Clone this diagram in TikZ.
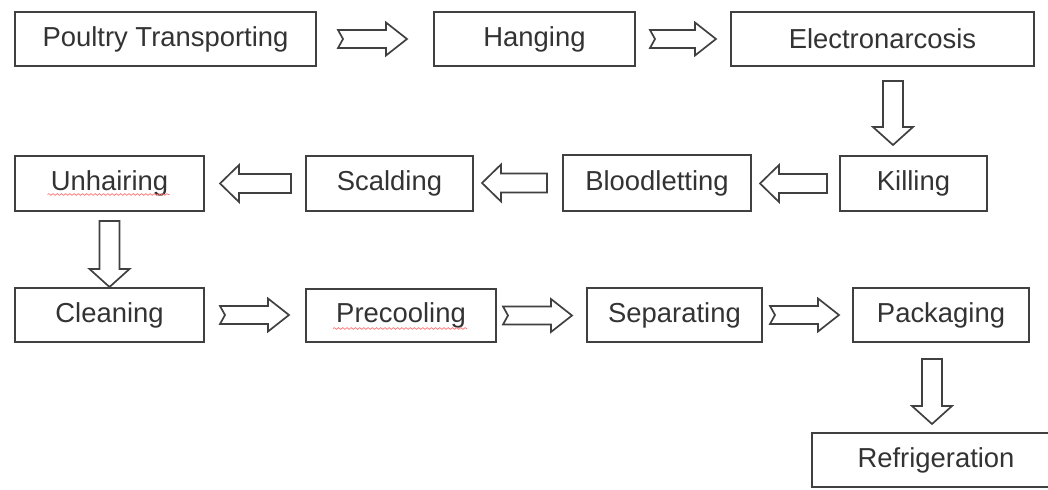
\documentclass[tikz,border=0pt]{standalone}
\usepackage{fontspec}
\setmainfont{Liberation Sans}
\usetikzlibrary{calc,decorations.pathmorphing}
% right arrow with notched tail: #1 from node, #2 to node, #3 gap at tail, #4 gap at tip
\newcommand\RArr[4]{\draw[arr] let \p1=($(#1.east)+(#3,0)$), \p2=($(#2.west)+(-#4,0)$) in
  ($(\x1,\y1)+(0,-9)$) -- ($(\x2,\y1)+(-21,-9)$) -- ($(\x2,\y1)+(-21,-16.5)$) -- (\x2,\y1)
  -- ($(\x2,\y1)+(-21,16.5)$) -- ($(\x2,\y1)+(-21,9)$) -- ($(\x1,\y1)+(0,9)$) -- ($(\x1,\y1)+(5,0)$) -- cycle;}
% left arrow: #1 from node, #2 to node, #3 gap at tail, #4 gap at tip
\newcommand\LArr[4]{\draw[arr] let \p1=($(#1.west)+(-#3,0)$), \p2=($(#2.east)+(#4,0)$) in
  ($(\x1,\y1)+(0,-9.5)$) -- ($(\x2,\y1)+(19,-9.5)$) -- ($(\x2,\y1)+(19,-18.5)$) -- (\x2,\y1)
  -- ($(\x2,\y1)+(19,18.5)$) -- ($(\x2,\y1)+(19,9.5)$) -- ($(\x1,\y1)+(0,9.5)$) -- cycle;}
% down arrow: #1 from node, #2 to node, #3 x shift, #4 gap at tail, #5 gap at tip
\newcommand\DArr[5]{\draw[arr] let \p1=($(#1.south)+(#3,#4)$), \p2=($(#2.north)+(0,-#5)$) in
  ($(\x1,\y1)+(-10,0)$) -- ($(\x1,\y2)+(-10,-18)$) -- ($(\x1,\y2)+(-20,-18)$) -- (\x1,\y2)
  -- ($(\x1,\y2)+(20,-18)$) -- ($(\x1,\y2)+(10,-18)$) -- ($(\x1,\y1)+(10,0)$) -- cycle;}
\begin{document}
\begin{tikzpicture}[x=0.025cm,y=-0.025cm,
  box/.style={draw=black!75,line width=1.4pt,minimum height=1.35cm,inner sep=0pt,
    font=\fontsize{19.5}{22}\selectfont,text=black!80},
  arr/.style={draw=black!75,line width=1.2pt,fill=white,line join=miter},
  squig/.style={draw=red!55,line width=0.5pt,decorate,
    decoration={snake,amplitude=0.6pt,segment length=3pt}}]
\useasboundingbox[fill=white] (0,0) rectangle (1048,490);
% row 1
\node[box,minimum width=7.525cm] (pt) at (165.5,39) {Poultry Transporting};
\node[box,minimum width=5.025cm] (hang) at (534.5,39) {Hanging};
\node[box,minimum width=7.575cm] (elec) at (882.5,39) {Electronarcosis};
% row 2
\node[box,minimum width=4.725cm,minimum height=1.375cm] (unh) at (109.5,183.5) {Unhairing};
\node[box,minimum width=4.175cm,minimum height=1.375cm] (scald) at (389.5,183.5) {Scalding};
\node[box,minimum width=4.7cm,minimum height=1.4cm] (blood) at (657,183) {Bloodletting};
\node[box,minimum width=3.675cm,minimum height=1.375cm] (kill) at (913.5,183.5) {Killing};
% row 3
\node[box,minimum width=4.725cm] (clean) at (109.5,315) {Cleaning};
\node[box,minimum width=4.75cm,minimum height=1.325cm] (precool) at (401,315.5) {Precooling};
\node[box,minimum width=4.375cm] (sep) at (674.5,315) {Separating};
\node[box,minimum width=4.4cm] (pack) at (941,315) {Packaging};
% row 4 (box runs past the right edge of the picture)
\node[box,minimum width=6.2cm] (refr) at (936,460) {Refrigeration};
% spell-check underlines
\draw[squig] ($(unh.center)+(-62,11)$) -- ($(unh.center)+(60,11)$);
\draw[squig] ($(precool.center)+(-68,13)$) -- ($(precool.center)+(66,13)$);
% arrows
\RArr{pt}{hang}{21}{26}
\RArr{hang}{elec}{14}{14}
\DArr{elec}{kill}{10.5}{14}{10}
\LArr{kill}{blood}{12}{8}
\LArr{blood}{scald}{15}{8}
\LArr{scald}{unh}{14}{15}
\DArr{unh}{clean}{0}{9}{0}
\RArr{clean}{precool}{15}{16}
\RArr{precool}{sep}{6}{14}
\RArr{sep}{pack}{7}{13}
\DArr{pack}{refr}{-9}{16}{8}
\end{tikzpicture}
\end{document}
